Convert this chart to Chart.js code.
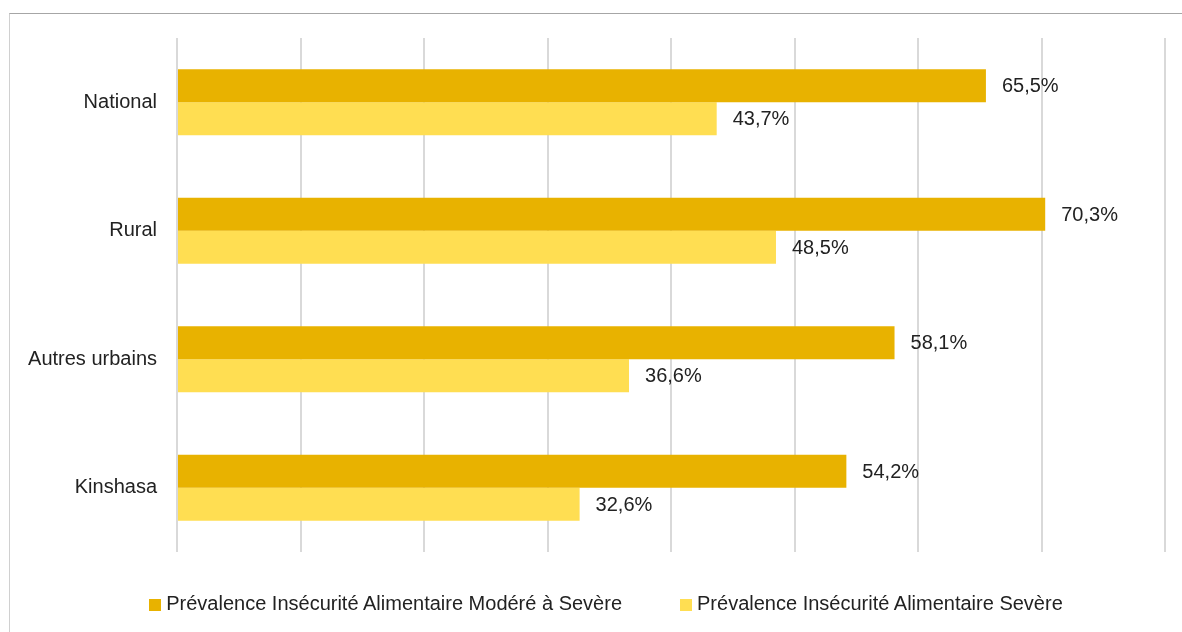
<!DOCTYPE html>
<html>
<head>
<meta charset="utf-8">
<script src="https://cdn.jsdelivr.net/npm/chart.js@4/dist/chart.umd.min.js"></script>
<style>
  html, body { margin: 0; padding: 0; background: #fff; }
  #wrap { position: relative; width: 1182px; height: 632px; }
  #frame { position: absolute; left: 9px; top: 13px; right: 0; bottom: 0;
           border-top: 1px solid #a6a6a6; border-left: 1px solid #d0d0d0; }
  canvas { position: absolute; left: 0; top: 0; }
  #legend { position: absolute; left: 30px; right: 0; top: 591px; text-align: center;
            font: 20px 'Liberation Sans', Arial, sans-serif; color: #222; line-height: 24px; }
  #legend span.item { display: inline-block; margin: 0 29px; }
  #legend i { display: inline-block; width: 12px; height: 12px; margin-right: 5px; vertical-align: -1px; }
</style>
</head>
<body>
<div id="wrap">
  <div id="frame"></div>
  <canvas id="myChart" width="1182" height="632"></canvas>
  <div id="legend"></div>
</div>
<script>
const categories = ["National", "Rural", "Autres urbains", "Kinshasa"];
const moderateSevere = [65.5, 70.3, 58.1, 54.2];
const severe = [43.7, 48.5, 36.6, 32.6];
const seriesNames = [
  "Prévalence Insécurité Alimentaire Modéré à Sevère",
  "Prévalence Insécurité Alimentaire Sevère"
];
const seriesColors = ['#E8B200', '#FFDE52'];

const fontFamily = "'Liberation Sans', Arial, sans-serif";

// draw the value labels at the end of each bar
const valueLabels = {
  id: 'valueLabels',
  afterDatasetsDraw(chart) {
    const ctx = chart.ctx;
    ctx.save();
    ctx.font = "20px " + fontFamily;
    ctx.fillStyle = '#222';
    ctx.textBaseline = 'middle';
    ctx.textAlign = 'left';
    chart.data.datasets.forEach((ds, i) => {
      chart.getDatasetMeta(i).data.forEach((bar, j) => {
        const txt = ds.data[j].toFixed(1).replace('.', ',') + '%';
        ctx.fillText(txt, bar.x + 16, bar.y + 1);
      });
    });
    ctx.restore();
  }
};

const chart = new Chart(document.getElementById('myChart').getContext('2d'), {
  type: 'bar',
  data: {
    labels: categories,
    datasets: [
      { label: seriesNames[0], data: moderateSevere, backgroundColor: seriesColors[0] },
      { label: seriesNames[1], data: severe, backgroundColor: seriesColors[1] }
    ]
  },
  options: {
    indexAxis: 'y',
    responsive: false,
    animation: false,
    datasets: { bar: { categoryPercentage: 0.515, barPercentage: 1.0 } },
    layout: { padding: { top: 38, right: 17, left: 0, bottom: 80 } },
    scales: {
      x: {
        min: 0,
        max: 80,
        ticks: { display: false, stepSize: 10 },
        border: { display: false },
        grid: { color: '#d9d9d9', lineWidth: 2, drawTicks: false },
        afterFit(scale) { scale.height = 0; }
      },
      y: {
        ticks: { color: '#222', font: { family: fontFamily, size: 20 }, padding: 12 },
        grid: { display: false },
        border: { display: false },
        afterFit(scale) { scale.width = 177; }
      }
    },
    plugins: {
      legend: { display: false },
      tooltip: { enabled: false }
    }
  },
  plugins: [valueLabels]
});

// html legend built from the chart datasets
const legendEl = document.getElementById('legend');
chart.data.datasets.forEach(ds => {
  const item = document.createElement('span');
  item.className = 'item';
  const box = document.createElement('i');
  box.style.background = ds.backgroundColor;
  item.appendChild(box);
  item.appendChild(document.createTextNode(ds.label));
  legendEl.appendChild(item);
});
</script>
</body>
</html>
